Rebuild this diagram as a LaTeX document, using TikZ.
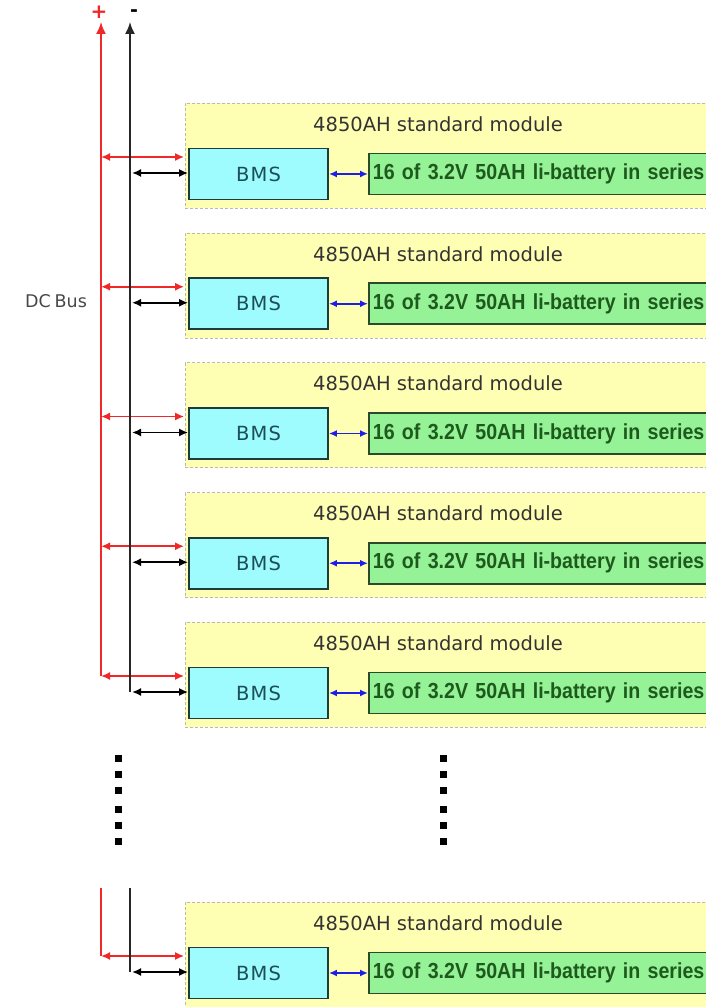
\documentclass[tikz,border=0pt]{standalone}
\usepackage{fontspec}
\setmainfont{DejaVu Sans}
\newfontfamily\batfont[FakeStretch=0.9]{Liberation Sans}
\usetikzlibrary{arrows.meta}
\definecolor{modyellow}{HTML}{FFFFB4}
\definecolor{bmscyan}{HTML}{9EFCFF}
\definecolor{batgreen}{HTML}{96F296}
\definecolor{bmsedge}{HTML}{1E3C3C}
\definecolor{batedge}{HTML}{2A4A2A}
\definecolor{bmstext}{HTML}{1C4E58}
\definecolor{battext}{HTML}{1E5A1E}
\definecolor{titletextc}{HTML}{333333}
\definecolor{busred}{HTML}{F02828}
\definecolor{busblue}{HTML}{1E1EE6}
\begin{document}
\begin{tikzpicture}[x=1pt,y=1pt,
  modbox/.style={draw=gray!55, densely dashed, line width=0.6pt, fill=modyellow,
    anchor=north west, minimum width=540, minimum height=105, inner sep=0pt},
  titletext/.style={text=titletextc, font=\fontsize{19.5}{21}\selectfont, inner sep=0pt},
  bmsbox/.style={draw=bmsedge, line width=1.8pt, fill=bmscyan, minimum width=139,
    minimum height=51, inner sep=0pt, text=bmstext, font=\addfontfeature{LetterSpace=6}\fontsize{19.5}{21}\selectfont},
  batbox/.style={draw=batedge, line width=1.8pt, fill=batgreen, anchor=west,
    minimum height=41, text width=360, inner xsep=4pt, inner ysep=0pt, align=left,
    text=battext, font=\batfont\bfseries\fontsize{21.8}{24}\selectfont},
  redconn/.style={draw=busred, line width=1.7pt, {Latex[length=9pt,width=8pt]}-{Latex[length=9pt,width=8pt]}},
  blackconn/.style={draw=black, line width=1.7pt, {Latex[length=9pt,width=8pt]}-{Latex[length=9pt,width=8pt]}},
  blueconn/.style={draw=busblue, line width=1.6pt, {Latex[length=8pt,width=7pt]}-{Latex[length=8pt,width=7pt]}},
  redbus/.style={draw=busred, line width=1.8pt},
  blackbus/.style={draw=black!85, line width=1.8pt},
  dotsq/.style={fill=black, minimum size=7pt, inner sep=0pt}
]
\useasboundingbox (0,0) rectangle (706,1007);
\clip (0,0) rectangle (706,1007);

\foreach \i/\T in {1/103, 2/232.75, 3/362.5, 4/492.25, 5/622, 6/902}{
  \pgfmathsetmacro{\Y}{1007-\T}
  \node[modbox] (mod\i) at (185,\Y) {};
  \node[titletext] (title\i) at (438,\Y-21) {4850AH standard module};
  \node[bmsbox] (bms\i) at (258.5,\Y-71) {BMS};
  \node[batbox] (bat\i) at (368,\Y-71) {16 of 3.2V 50AH li-battery in series};
  \draw[blueconn] (bms\i.east) -- (bat\i.west);
  \coordinate (rj\i) at (101,\Y-54);
  \coordinate (bj\i) at (130,\Y-70);
  \draw[redconn, shorten >=4pt] (rj\i) -- (rj\i -| bms\i.west);
  \draw[blackconn, shorten <=2pt] (bj\i) -- (bj\i -| bms\i.west);
}

% DC bus
\coordinate (rtop) at (101,985);
\coordinate (btop) at (130,985);
\coordinate (rbot) at (101,119);
\coordinate (bbot) at (130,119);
\draw[redbus, -{Latex[length=12pt,width=10pt]}] (rj5) -- (rtop);
\draw[blackbus, -{Latex[length=12pt,width=10pt]}] (bj5) -- (btop);
\draw[redbus] (rbot) -- (rj6);
\draw[blackbus] (bbot) -- (bj6);

\node[text=busred, font=\bfseries\fontsize{20}{22}\selectfont, inner sep=0pt] (plus) at (99,995) {+};
\node[text=black, font=\bfseries\fontsize{19}{21}\selectfont, inner sep=0pt] (minus) at (134,994) {-};
\node[text=black!72, font=\fontsize{17.5}{19}\selectfont, inner sep=0pt] (dcbus) at (56,706) {DC\hspace{4pt}Bus};

% continuation dots
\foreach \k/\yy in {1/759, 2/775, 3/791, 4/810, 5/826, 6/842}{
  \node[dotsq] (dl\k) at (118,1007-\yy) {};
  \node[dotsq] (dr\k) at (443,1007-\yy) {};
}
\end{tikzpicture}
\end{document}
